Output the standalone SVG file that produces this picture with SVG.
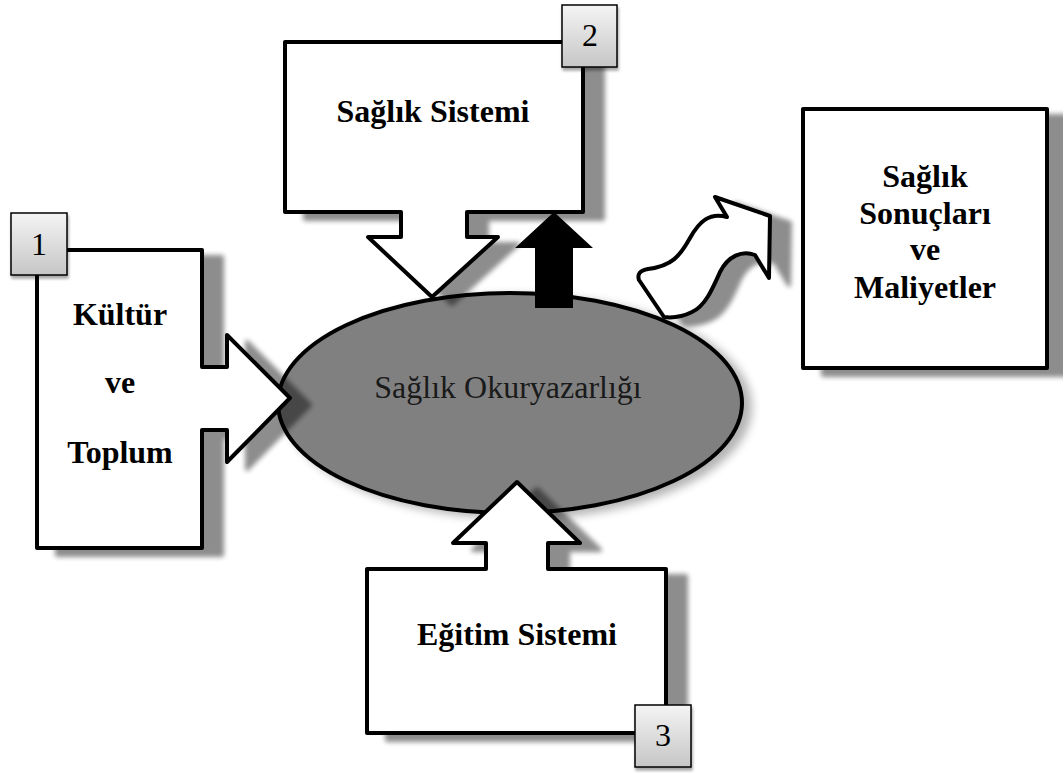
<svg xmlns="http://www.w3.org/2000/svg" width="1063" height="773" viewBox="0 0 1063 773">
<defs>
<filter id="sh" x="-20%" y="-20%" width="150%" height="150%">
<feGaussianBlur in="SourceAlpha" stdDeviation="2.5" result="b"/>
<feOffset in="b" dx="20" dy="7" result="o"/>
<feComponentTransfer in="o" result="s"><feFuncA type="linear" slope="0.45"/></feComponentTransfer>
<feMerge><feMergeNode in="s"/><feMergeNode in="SourceGraphic"/></feMerge>
</filter>
<filter id="sh2" x="-20%" y="-20%" width="150%" height="150%">
<feGaussianBlur in="SourceAlpha" stdDeviation="5" result="b"/>
<feOffset in="b" dx="8" dy="4" result="o"/>
<feComponentTransfer in="o" result="s"><feFuncA type="linear" slope="0.3"/></feComponentTransfer>
<feMerge><feMergeNode in="s"/><feMergeNode in="SourceGraphic"/></feMerge>
</filter>
<filter id="sh3" x="-20%" y="-20%" width="150%" height="150%">
<feGaussianBlur in="SourceAlpha" stdDeviation="1.5" result="b"/>
<feOffset in="b" dx="1" dy="3" result="o"/>
<feComponentTransfer in="o" result="s"><feFuncA type="linear" slope="0.35"/></feComponentTransfer>
<feMerge><feMergeNode in="s"/><feMergeNode in="SourceGraphic"/></feMerge>
</filter>
<linearGradient id="g" x1="0" y1="0" x2="0" y2="1">
<stop offset="0" stop-color="#f4f4f4"/>
<stop offset="1" stop-color="#c6c6c6"/>
</linearGradient>
</defs>
<style>
.box{fill:#fff;stroke:#000;stroke-width:4;stroke-linejoin:round;filter:url(#sh)}
.lbl{font-family:"Liberation Serif","Times New Roman",serif;font-weight:bold;font-size:32px;fill:#000;text-anchor:middle}
.num rect{fill:url(#g);stroke:#000;stroke-width:1.5;filter:url(#sh3)}
.num text{font-family:"Liberation Serif","Times New Roman",serif;font-size:32px;fill:#000;text-anchor:middle}
</style>
<g id="center">
<ellipse cx="510" cy="403" rx="232" ry="110" fill="#808080" stroke="#000" stroke-width="4" filter="url(#sh2)"/>
<text x="508" y="398" font-family="Liberation Serif, Times New Roman, serif" font-size="32" fill="#1a1a1a" text-anchor="middle">Sağlık Okuryazarlığı</text>
</g>
<g id="node1">
<path class="box" d="M37,250 H202 V367 H227 V335 L290,398 L227,462 V430 H202 V548 H37 Z"/>
<text class="lbl" x="120" y="325">Kültür</text>
<text class="lbl" x="120" y="393">ve</text>
<text class="lbl" x="120" y="463">Toplum</text>
</g>
<g id="node2">
<path class="box" d="M285,42 H583 V212 H467 V237 H498 L432,297 L368,237 H401 V212 H285 Z"/>
<text class="lbl" x="433" y="122">Sağlık Sistemi</text>
</g>
<g id="node3">
<path class="box" d="M367,569 H486 V543 H453 L517,482 L580,543 H548 V569 H666 V733 H367 Z"/>
<text class="lbl" x="517" y="645">Eğitim Sistemi</text>
</g>
<g id="connectors">
<path d="M535,308 V248 H515 L554,212 L593,248 H573 V308 Z" fill="#000"/>
<path class="box" d="M664,317 L639,280 Q636,271 648,269 C672,266 680,256 690,238 C699,222 709,212 727,217 L715,197 L770,216 L769,278 L755,255 C742,250 728,256 720,272 C712,290 705,306 692,312 C682,317 672,318 664,317 Z"/>
</g>
<g id="node4">
<rect class="box" x="803" y="109" width="244" height="259"/>
<text class="lbl" x="925" y="187">Sağlık</text>
<text class="lbl" x="925" y="224">Sonuçları</text>
<text class="lbl" x="925" y="260">ve</text>
<text class="lbl" x="925" y="298">Maliyetler</text>
</g>
<g id="badge1" class="num">
<rect x="11" y="213" width="56" height="62"/>
<text x="39" y="255">1</text>
</g>
<g id="badge2" class="num">
<rect x="562" y="5" width="55" height="62"/>
<text x="590" y="46">2</text>
</g>
<g id="badge3" class="num">
<rect x="635" y="705" width="56" height="62"/>
<text x="663" y="746">3</text>
</g>
</svg>
